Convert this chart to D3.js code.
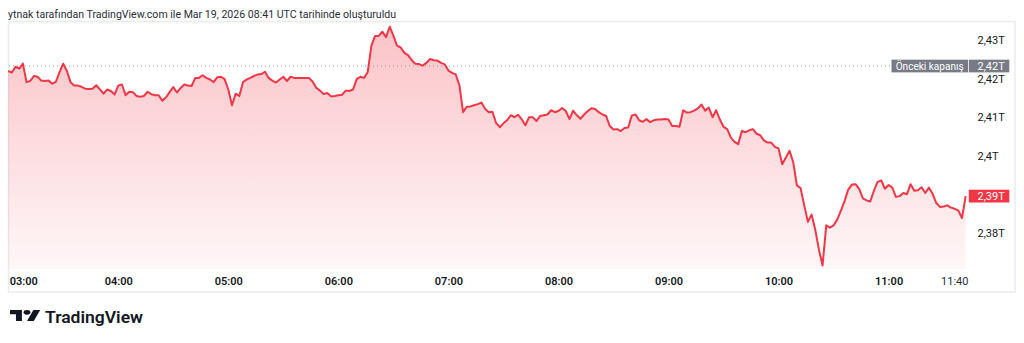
<!DOCTYPE html>
<html>
<head>
<meta charset="utf-8">
<script src="https://cdn.jsdelivr.net/npm/d3@7"></script>
<style>
  html, body { margin: 0; padding: 0; background: #ffffff; }
  svg { display: block; }
  text { font-family: Roboto, "Noto Sans", sans-serif; }
</style>
</head>
<body>
<svg id="chart" width="1024" height="343"></svg>
<script>
// ---------- DATA ----------
const titleText = "ytnak tarafından TradingView.com ile Mar 19, 2026 08:41 UTC tarihinde oluşturuldu";
const sessionStart = "03:00";      // first sample time (local exchange time)
const stepMinutes = 2;             // sampling interval of the series
const values = [
  2.4219, 2.4215, 2.4230, 2.4225, 2.4238, 2.4190, 2.4193, 2.4206, 2.4204, 2.4194,
  2.4193, 2.4194, 2.4186, 2.4191, 2.4216, 2.4238, 2.4219, 2.4190, 2.4181, 2.4181,
  2.4178, 2.4173, 2.4172, 2.4173, 2.4182, 2.4171, 2.4160, 2.4171, 2.4167, 2.4158,
  2.4181, 2.4184, 2.4156, 2.4165, 2.4164, 2.4154, 2.4152, 2.4154, 2.4165, 2.4159,
  2.4156, 2.4156, 2.4142, 2.4150, 2.4164, 2.4177, 2.4163, 2.4175, 2.4184, 2.4181,
  2.4180, 2.4201, 2.4201, 2.4208, 2.4201, 2.4197, 2.4190, 2.4203, 2.4204, 2.4198,
  2.4171, 2.4130, 2.4160, 2.4154, 2.4190, 2.4197, 2.4201, 2.4206, 2.4210, 2.4211,
  2.4217, 2.4201, 2.4194, 2.4189, 2.4197, 2.4204, 2.4193, 2.4204, 2.4201, 2.4201,
  2.4201, 2.4201, 2.4201, 2.4191, 2.4175, 2.4168, 2.4159, 2.4162, 2.4153, 2.4154,
  2.4156, 2.4157, 2.4168, 2.4167, 2.4171, 2.4198, 2.4204, 2.4201, 2.4216, 2.4284,
  2.4310, 2.4310, 2.4321, 2.4307, 2.4334, 2.4311, 2.4285, 2.4280, 2.4266, 2.4260,
  2.4247, 2.4238, 2.4237, 2.4233, 2.4240, 2.4250, 2.4247, 2.4246, 2.4240, 2.4236,
  2.4220, 2.4214, 2.4210, 2.4182, 2.4112, 2.4126, 2.4127, 2.4130, 2.4133, 2.4137,
  2.4121, 2.4112, 2.4113, 2.4084, 2.4073, 2.4083, 2.4091, 2.4104, 2.4099, 2.4105,
  2.4093, 2.4078, 2.4099, 2.4099, 2.4089, 2.4102, 2.4104, 2.4106, 2.4117, 2.4112,
  2.4115, 2.4123, 2.4115, 2.4094, 2.4116, 2.4104, 2.4095, 2.4106, 2.4115, 2.4122,
  2.4120, 2.4112, 2.4106, 2.4102, 2.4076, 2.4067, 2.4068, 2.4063, 2.4071, 2.4072,
  2.4103, 2.4106, 2.4091, 2.4087, 2.4094, 2.4086, 2.4091, 2.4093, 2.4093, 2.4094,
  2.4093, 2.4076, 2.4076, 2.4074, 2.4117, 2.4111, 2.4112, 2.4116, 2.4122, 2.4132,
  2.4116, 2.4124, 2.4099, 2.4117, 2.4093, 2.4074, 2.4068, 2.4046, 2.4035, 2.4029,
  2.4063, 2.4060, 2.4065, 2.4068, 2.4056, 2.4052, 2.4039, 2.4033, 2.4033, 2.4022,
  2.4018, 2.3977, 2.3994, 2.4012, 2.3982, 2.3922, 2.3915, 2.3870, 2.3827, 2.3846,
  2.3807, 2.3755, 2.3714, 2.3818, 2.3812, 2.3818, 2.3833, 2.3856, 2.3881, 2.3911,
  2.3924, 2.3925, 2.3912, 2.3888, 2.3883, 2.3880, 2.3908, 2.3931, 2.3935, 2.3913,
  2.3923, 2.3916, 2.3892, 2.3894, 2.3902, 2.3899, 2.3925, 2.3908, 2.3909, 2.3917,
  2.3902, 2.3916, 2.3900, 2.3876, 2.3866, 2.3867, 2.3870, 2.3864, 2.3861, 2.3857,
  2.3837, 2.3894
];
const prevClose = 2.4232;
const prevCloseLabel = "Önceki kapanış";
const prevCloseValueLabel = "2,42T";
const lastValueLabel = "2,39T";
const xTickLabels = ["03:00", "04:00", "05:00", "06:00", "07:00", "08:00", "09:00", "10:00", "11:00", "11:40"];
const yTickValues = [2.38, 2.39, 2.40, 2.41, 2.42, 2.43];
const yTickLabels = ["2,38T", "2,39T", "2,4T", "2,41T", "2,42T", "2,43T"];
const brandText = "TradingView";

// ---------- HELPERS ----------
function toDate(hhmm) {
  const [h, m] = hhmm.split(":").map(Number);
  return new Date(Date.UTC(2026, 2, 19, h, m));
}
const t0 = toDate(sessionStart);
const series = values.map((v, i) => ({ t: new Date(+t0 + i * stepMinutes * 60000), v }));

// ---------- LAYOUT ----------
const svg = d3.select("#chart");
const plotBottom = 269;
const x = d3.scaleUtc().domain([toDate("03:00"), toDate("11:00")]).range([8.2, 888.6]);
const y = d3.scaleLinear().domain([2.38, 2.43]).range([232.3, 39.8]);

const red = "#f23645";

// title
svg.append("text")
  .attr("x", 8).attr("y", 17.5)
  .attr("font-size", 11).attr("fill", "#2a2e39")
  .attr("textLength", 388).attr("lengthAdjust", "spacingAndGlyphs")
  .text(titleText);

// frame
svg.append("rect")
  .attr("x", 8.5).attr("y", 21.5).attr("width", 1006.5).attr("height", 270.5)
  .attr("fill", "none").attr("stroke", "#e9ebef").attr("stroke-width", 1.5);

// gradient
const defs = svg.append("defs");
const grad = defs.append("linearGradient").attr("id", "fillGrad")
  .attr("gradientUnits", "userSpaceOnUse").attr("x1", 0).attr("x2", 0).attr("y1", 25).attr("y2", plotBottom);
grad.append("stop").attr("offset", 0).attr("stop-color", red).attr("stop-opacity", 0.30);
grad.append("stop").attr("offset", 1).attr("stop-color", red).attr("stop-opacity", 0.04);

// area + line
const area = d3.area().x(d => x(d.t)).y0(plotBottom).y1(d => y(d.v));
const line = d3.line().x(d => x(d.t)).y(d => y(d.v));
svg.append("path").datum(series).attr("d", area).attr("fill", "url(#fillGrad)");

// previous close dotted line
svg.append("line")
  .attr("x1", 9).attr("x2", 890)
  .attr("y1", y(prevClose)).attr("y2", y(prevClose))
  .attr("stroke", "#9598a1").attr("stroke-width", 1).attr("stroke-dasharray", "1,3");

svg.append("path").datum(series).attr("d", line)
  .attr("fill", "none").attr("stroke", red).attr("stroke-width", 2).attr("stroke-linejoin", "round");

// y axis (right)
const yAxis = d3.axisRight(y).tickValues(yTickValues)
  .tickFormat((d, i) => yTickLabels[i]).tickSize(0).tickPadding(0);
const yG = svg.append("g").attr("transform", "translate(977.5,0)").call(yAxis);
yG.select(".domain").remove();
yG.selectAll("text").attr("font-size", 11).attr("fill", "#131722")
  .attr("font-family", "Roboto, sans-serif").attr("dy", "0.35em");

// previous close label
const pcY = y(prevClose);
svg.append("rect").attr("x", 891.5).attr("y", pcY - 6.3).attr("width", 76.5).attr("height", 12.7).attr("fill", "#787b86");
svg.append("rect").attr("x", 968.8).attr("y", pcY - 6.3).attr("width", 40.5).attr("height", 12.7).attr("fill", "#787b86");
svg.append("text").attr("x", 929.7).attr("y", pcY).attr("dy", "0.35em")
  .attr("text-anchor", "middle").attr("font-size", 10.5).attr("fill", "#ffffff")
  .attr("textLength", 68).attr("lengthAdjust", "spacingAndGlyphs").text(prevCloseLabel);
svg.append("text").attr("x", 977.5).attr("y", pcY).attr("dy", "0.35em")
  .attr("font-size", 11).attr("fill", "#ffffff").text(prevCloseValueLabel);

// last value label
const lastY = y(values[values.length - 1]);
svg.append("rect").attr("x", 968.8).attr("y", lastY - 6.4).attr("width", 40.5).attr("height", 12.8).attr("fill", red);
svg.append("text").attr("x", 977.5).attr("y", lastY).attr("dy", "0.35em")
  .attr("font-size", 11).attr("fill", "#ffffff").text(lastValueLabel);

// x axis
const xTickDates = xTickLabels.map(toDate);
const xAxis = d3.axisBottom(x).tickValues(xTickDates)
  .tickFormat((d, i) => xTickLabels[i]).tickSize(0).tickPadding(0);
const xG = svg.append("g").attr("transform", "translate(0,281)").call(xAxis);
xG.select(".domain").remove();
xG.selectAll("text").attr("font-size", 11).attr("fill", "#131722")
  .attr("font-family", "Roboto, sans-serif").attr("font-weight", 600).attr("dy", "0.35em")
  .each(function (d, i) {
    const n = xTickLabels.length;
    if (i === 0) d3.select(this).attr("text-anchor", "start").attr("x", 1);
    if (i === n - 1) d3.select(this).attr("text-anchor", "end").attr("x", 6).attr("font-weight", 400).attr("fill", "#2a2e39");
  });

// brand logo
const logo = svg.append("g").attr("transform", "translate(10,307.4) scale(0.85,0.62)").attr("fill", "#131722");
logo.append("path").attr("d", "M14 22H7V11H0V4h14v18zM28 22h-8l7.5-18h8L28 22z");
logo.append("circle").attr("cx", 20).attr("cy", 8).attr("r", 4);
svg.append("text").attr("x", 45).attr("y", 322.5)
  .attr("font-family", "Inter, Roboto, sans-serif").attr("font-weight", 600)
  .attr("font-size", 16).attr("fill", "#131722")
  .attr("textLength", 98).attr("lengthAdjust", "spacingAndGlyphs")
  .text(brandText);
</script>
</body>
</html>
